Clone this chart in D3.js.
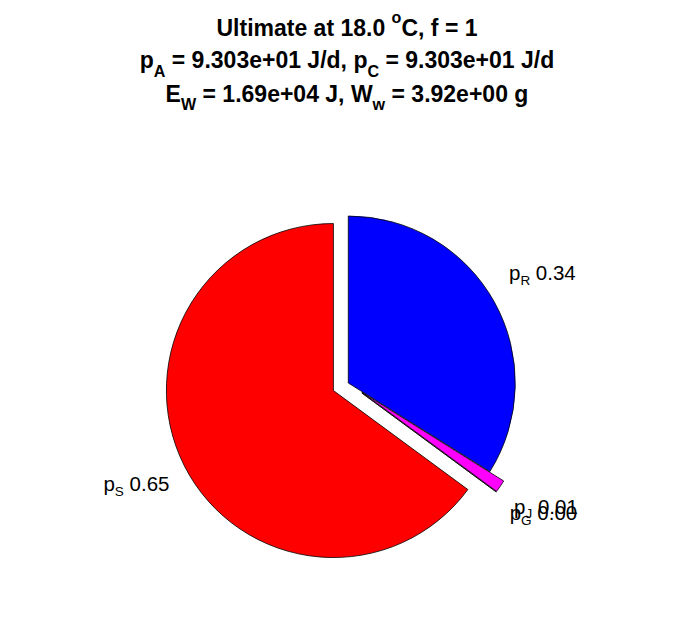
<!DOCTYPE html>
<html><head><meta charset="utf-8">
<script src="https://cdn.jsdelivr.net/npm/d3@7"></script>
<style>body{margin:0;background:#fff}svg{display:block}</style></head>
<body>
<script>
// ---- data ----
const sliceNames   = ["S", "G", "J", "R"];
const sliceValues  = [0.649, 0.000, 0.012, 0.339];
const sliceExplode = [1, 1, 1, 0];
const sliceColors  = ["#ff0000", "#00ff00", "#ff00ff", "#0000ff"];
const titleTemp = 18.0, titleF = 1;
const titlePA = 93.03, titlePC = 93.03;
const titleEW = 1.69e4, titleWw = 3.92;

// ---- layout ----
const W = 696, H = 618, cx = 348.3, cy = 383, R = 167;
const FONT = "'Liberation Sans', Arial, Helvetica, sans-serif";
const svg = d3.select("body").append("svg").attr("width", W).attr("height", H);
svg.append("rect").attr("width", W).attr("height", H).attr("fill", "#fff");

const pie = d3.pie().sort(null).value(d => d).startAngle(0).endAngle(-2 * Math.PI);
const arcs = pie(sliceValues);
const arc = d3.arc().innerRadius(0).outerRadius(R);
const g = svg.append("g").attr("transform", `translate(${cx},${cy})`);

// rich text helper: parts = [[text, "n"|"sub"|"sup"], ...]
function rich(sel, parts, size, subShift, supShift, subScale) {
  let cur = 0;
  parts.forEach(([t, k]) => {
    let target = 0, fs = size;
    if (k === "sub") { target = subShift * size; fs = size * subScale; }
    if (k === "sup") { target = -supShift * size; fs = size * subScale; }
    sel.append("tspan").attr("dy", target - cur).attr("font-size", fs).text(t);
    cur = target;
  });
}

const LFS = 20.5;
arcs.forEach((a, i) => {
  const mid = (a.startAngle + a.endAngle) / 2;
  const ux = Math.sin(mid), uy = -Math.cos(mid);
  const off = sliceExplode[i] ? 0.1 * R : 0;
  g.append("path")
    .attr("d", arc(a))
    .attr("transform", `translate(${ux * off},${uy * off})`)
    .attr("fill", sliceColors[i])
    .attr("stroke", "#000").attr("stroke-width", 0.8)
    .attr("stroke-linejoin", "miter");
  const rho = 1.1 * R + off;
  const lx = ux * rho, ly = uy * rho;
  const t = g.append("text")
    .attr("x", lx)
    .attr("y", uy > 0 ? ly + 18 : ly - 14)
    .attr("text-anchor", ux >= 0 ? "start" : "end")
    .attr("font-family", FONT).attr("font-size", LFS).attr("fill", "#000");
  rich(t, [["p", "n"], [sliceNames[i], "sub"], [" " + sliceValues[i].toFixed(2), "n"]], LFS, 0.23, 0, 0.66);
});

// ---- title ----
const fmt = (v, d) => v.toExponential(d).replace(/e([+-])(\d)$/, "e$10$2");
const titleLines = [
  [["Ultimate at " + titleTemp.toFixed(1) + " ", "n"], ["o", "sup"], ["C, f = " + titleF, "n"]],
  [["p", "n"], ["A", "sub"], [" = " + fmt(titlePA, 3) + " J/d, p", "n"], ["C", "sub"], [" = " + fmt(titlePC, 3) + " J/d", "n"]],
  [["E", "n"], ["W", "sub"], [" = " + fmt(titleEW, 2) + " J, W", "n"], ["w", "sub"], [" = " + fmt(titleWw, 2) + " g", "n"]]
];
const titleBaselines = [36, 68.3, 101.7];
const TFS = 23;
titleLines.forEach((parts, i) => {
  const t = svg.append("text")
    .attr("x", 347).attr("y", titleBaselines[i])
    .attr("text-anchor", "middle")
    .attr("font-family", FONT).attr("font-weight", "bold").attr("font-size", TFS).attr("fill", "#000");
  rich(t, parts, TFS, 0.36, 0.57, 0.7);
});
</script>
</body></html>
